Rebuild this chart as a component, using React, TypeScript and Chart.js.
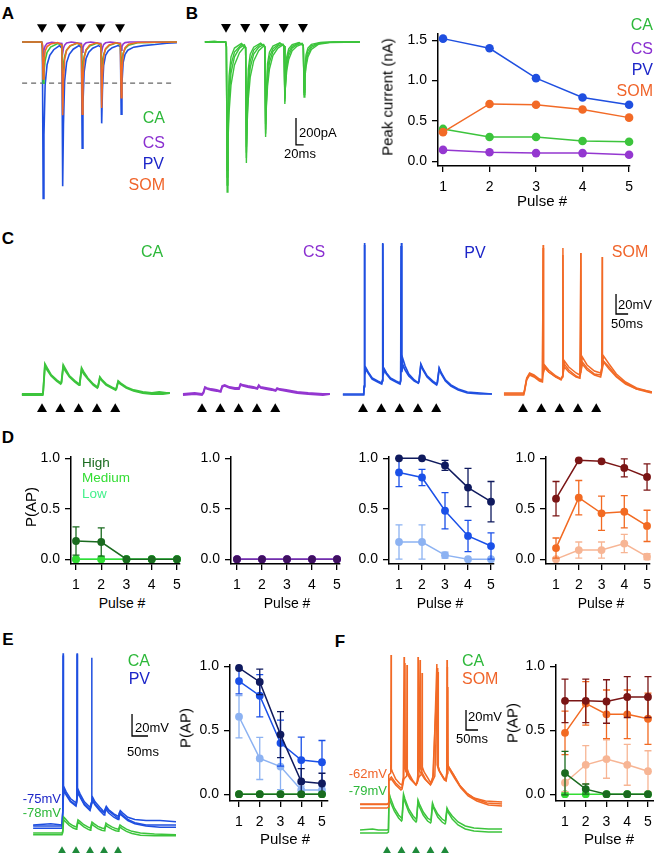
import React, { useEffect, useRef } from 'react';
import { Chart, registerables } from 'chart.js';
Chart.register(...registerables);

const FONT = '"Liberation Sans", Arial, Helvetica, sans-serif';

// ================= DATA =================
const pulseNumbers = [1, 2, 3, 4, 5];
const pulseTimesMs = [0, 50, 100, 150, 200];
const yTicksPeak = [0, 0.5, 1.0, 1.5];
const yTicksP = [0, 0.5, 1.0];

// Panel B (right): peak current (nA)
const peakCA = [0.40, 0.30, 0.30, 0.25, 0.24];
const peakCS = [0.14, 0.11, 0.10, 0.10, 0.08];
const peakPV = [1.52, 1.40, 1.03, 0.79, 0.70];
const peakSOM = [0.36, 0.71, 0.70, 0.64, 0.54];

// Panel D: P(AP)
const dCAHigh = [0.18, 0.17, 0, 0, 0];
const dCAHighErr = [0.14, 0.14, 0, 0, 0];
const dCAMed = [0, 0, 0, 0, 0];
const dCALow = [0, 0, 0, 0, 0];
const dCSHigh = [0, 0, 0, 0, 0];
const dCSMed = [0, 0, 0, 0, 0];
const dCSLow = [0, 0, 0, 0, 0];
const dPVHigh = [1.0, 1.0, 0.93, 0.71, 0.57];
const dPVHighErr = [0, 0, 0.05, 0.19, 0.2];
const dPVMed = [0.86, 0.81, 0.48, 0.23, 0.13];
const dPVMedErr = [0.14, 0.08, 0.18, 0.155, 0.13];
const dPVLow = [0.17, 0.17, 0.04, 0.0, 0.0];
const dPVLowErr = [0.17, 0.17, 0.03, 0, 0];
const dSOMHigh = [0.60, 0.98, 0.97, 0.905, 0.815];
const dSOMHighErr = [0.17, 0, 0, 0.09, 0.13];
const dSOMMed = [0.11, 0.61, 0.455, 0.47, 0.33];
const dSOMMedErr = [0.10, 0.17, 0.17, 0.16, 0.155];
const dSOMLow = [0.0, 0.09, 0.09, 0.155, 0.025];
const dSOMLowErr = [0, 0.08, 0.08, 0.09, 0.03];

// Panel E: P(AP)
const eCAHigh = [0, 0, 0, 0, 0];
const eCAMed = [0, 0, 0, 0, 0];
const ePVHigh = [0.987, 0.878, 0.466, 0.10, 0.084];
const ePVHighErr = [0, 0.1, 0.18, 0.1, 0.08];
const ePVMed = [0.885, 0.77, 0.40, 0.267, 0.25];
const ePVMedErr = [0.1, 0.165, 0.18, 0.18, 0.17];
const ePVLow = [0.606, 0.28, 0.216, 0.033, 0.033];
const ePVLowErr = [0.165, 0.165, 0.18, 0.03, 0.03];

// Panel F: P(AP)
const fCAHigh = [0.165, 0.04, 0, 0, 0];
const fCAHighErr = [0.17, 0.04, 0, 0, 0];
const fCAMed = [0, 0, 0, 0, 0];
const fSOMHigh = [0.73, 0.73, 0.725, 0.76, 0.76];
const fSOMHighErr = [0.17, 0.17, 0.17, 0.16, 0.16];
const fSOMMed = [0.48, 0.71, 0.625, 0.625, 0.59];
const fSOMMedErr = [0.17, 0.17, 0.19, 0.19, 0.2];
const fSOMLow = [0.09, 0.23, 0.275, 0.23, 0.18];
const fSOMLowErr = [0.07, 0.15, 0.15, 0.16, 0.16];

// Panel A traces: [ms, pA]
const traceA_PV = [[-51,0],[-1,0],[1,-60],[3,-1520],[5,-900],[8,-420],[13,-220],[20,-130],[30,-75],[45,-35],
  [51,-60],[53,-1400],[55,-800],[58,-380],[63,-200],[70,-120],[80,-70],[95,-35],
  [101,-55],[103,-1030],[105,-600],[108,-290],[113,-160],[120,-100],[130,-60],[145,-35],
  [151,-50],[153,-790],[155,-460],[158,-230],[163,-130],[170,-85],[180,-55],[195,-35],
  [201,-45],[203,-700],[205,-400],[208,-200],[213,-120],[220,-80],[235,-50],[260,-35],[290,-25],[320,-12],[346,-8]];
const traceA_SOM = [[-51,0],[-1,0],[1,-30],[3,-360],[5,-200],[8,-90],[13,-45],[22,-20],[40,-5],
  [51,-30],[53,-710],[55,-380],[58,-170],[63,-80],[72,-35],[90,-10],
  [101,-30],[103,-700],[105,-370],[108,-160],[113,-75],[122,-30],[140,-8],
  [151,-25],[153,-640],[155,-330],[158,-140],[163,-65],[172,-28],[190,-8],
  [201,-20],[203,-540],[205,-280],[208,-120],[213,-55],[222,-22],[245,-5],[346,0]];
const traceA_CA = [[-51,0],[-1,0],[1,-40],[3,-400],[5,-300],[8,-180],[13,-100],[22,-50],[40,-15],
  [51,-30],[53,-300],[55,-230],[58,-140],[63,-80],[72,-40],[90,-12],
  [101,-30],[103,-300],[105,-230],[108,-140],[113,-80],[122,-40],[140,-12],
  [151,-25],[153,-250],[155,-190],[158,-120],[163,-70],[172,-35],[190,-10],
  [201,-25],[203,-240],[205,-180],[208,-110],[213,-65],[222,-32],[245,-8],[346,0]];
const traceA_CS = [[-51,0],[-1,0],[1,-20],[3,-140],[5,-80],[8,-40],[13,-15],[25,-3],
  [51,-15],[53,-110],[55,-60],[58,-30],[63,-10],[75,0],
  [101,-15],[103,-100],[105,-55],[108,-25],[113,-8],[125,0],
  [151,-15],[153,-100],[155,-55],[158,-25],[163,-8],[175,0],
  [201,-12],[203,-80],[205,-45],[208,-20],[213,-6],[225,0],[346,0]];
const dashedLevelPA = -400;

// Panel B traces (CA cell, several sweeps): [ms, pA]
const traceB1 = [[-55,0],[-30,6],[-10,-3],[-1,0],[1,-40],[3,-1111],[5,-600],[8,-250],[13,-110],[22,-45],[40,-10],
  [51,-40],[53,-897],[55,-480],[58,-200],[63,-90],[72,-38],[90,-8],
  [101,-35],[103,-704],[105,-380],[108,-160],[113,-75],[122,-30],[140,-6],
  [151,-30],[153,-459],[155,-250],[158,-110],[163,-50],[172,-20],[190,-4],
  [201,-28],[203,-408],[205,-220],[208,-95],[213,-45],[222,-18],[245,-3],[280,0],[348,0]];
const traceB2 = [[-55,3],[-1,3],[1,-30],[3,-1000],[5,-700],[8,-420],[13,-230],[22,-110],[35,-45],[48,-20],
  [51,-40],[53,-820],[55,-560],[58,-340],[63,-190],[72,-90],[85,-40],[98,-18],
  [101,-35],[103,-650],[105,-450],[108,-270],[113,-150],[122,-70],[135,-30],[148,-15],
  [151,-30],[153,-420],[155,-290],[158,-180],[163,-100],[172,-45],[185,-20],[198,-10],
  [201,-25],[203,-370],[205,-260],[208,-160],[213,-90],[222,-40],[240,-12],[270,-3],[348,0]];
const traceB3 = [[-55,-2],[-1,-2],[1,-35],[3,-1060],[5,-650],[8,-330],[13,-170],[22,-75],[40,-20],
  [51,-40],[53,-860],[55,-520],[58,-270],[63,-140],[72,-60],[90,-15],
  [101,-35],[103,-680],[105,-420],[108,-210],[113,-110],[122,-50],[140,-10],
  [151,-30],[153,-440],[155,-270],[158,-140],[163,-75],[172,-32],[190,-6],
  [201,-26],[203,-390],[205,-240],[208,-125],[213,-65],[222,-28],[245,-5],[280,0],[348,0]];
const traceB4 = [[-55,1],[-1,1],[1,-30],[3,-950],[5,-750],[8,-520],[13,-320],[22,-170],[35,-80],[48,-35],
  [51,-50],[53,-780],[55,-600],[58,-420],[63,-260],[72,-140],[85,-65],[98,-30],
  [101,-40],[103,-610],[105,-480],[108,-330],[113,-200],[122,-100],[135,-45],[148,-22],
  [151,-35],[153,-400],[155,-310],[158,-210],[163,-130],[172,-65],[185,-30],[198,-15],
  [201,-28],[203,-350],[205,-270],[208,-185],[213,-110],[222,-55],[240,-18],[270,-5],[348,0]];

// Panel C traces: [ms, mV from rest]
const traceC_CA1 = [[-55,0],[2,0],[3,2],[8,30],[14,26],[25,19],[40,14],[51,11],[53,12],[58,29],[64,25],[75,18],[90,13],[101,10],[103,11],[108,26],[114,22],[125,16],[140,10],[151,7],[153,8],[158,17],[164,14],[175,10],[190,7],[201,5],[203,6],[208,13],[214,11],[230,7],[250,4],[275,2],[300,1],[320,2],[340,1],[349,1]];
const traceC_CA2 = [[-55,-1],[2,-1],[3,1],[8,28],[14,24],[25,18],[40,13],[51,10],[53,11],[58,27],[64,23],[75,17],[90,12],[101,9],[103,10],[108,24],[114,20],[125,15],[140,9],[151,6],[153,7],[158,16],[164,13],[175,9],[190,6],[201,4],[203,5],[208,12],[214,10],[230,6],[250,3],[275,1],[300,0],[330,0],[349,1]];
const traceC_CS1 = [[-52,0],[-20,1],[0,0],[4,2],[8,7],[14,6],[25,5],[40,4],[51,3],[55,8],[62,9],[75,7],[90,6],[101,6],[105,10],[112,9],[125,8],[140,7],[151,6],[155,9],[160,7],[175,6],[190,5],[201,4],[205,6],[212,5],[230,4],[260,2],[290,1],[330,0],[349,0]];
const traceC_CS2 = [[-52,-1],[-20,0],[0,-1],[4,1],[8,6],[14,5],[25,4],[40,3],[51,2],[55,7],[62,8],[75,6],[90,5],[101,5],[105,9],[112,8],[125,7],[140,6],[151,5],[155,8],[160,6],[175,5],[190,4],[201,3],[205,5],[212,4],[230,3],[260,1],[290,0],[330,-1],[349,0]];
const traceC_PV1 = [[-55,0],[2,0],[3,8],[4,151],[5,20],[8,26],[14,22],[25,16],[40,13],[51,11],[53,14],[54,151],[55,20],[58,25],[64,21],[75,16],[90,13],[101,11],[103,14],[105,151],[106,22],[109,29],[115,24],[125,18],[140,13],[151,11],[153,13],[158,30],[164,25],[175,18],[190,13],[201,10],[203,12],[208,26],[214,21],[225,14],[240,9],[260,5],[285,2],[320,1],[352,0]];
const traceC_PV2 = [[-55,-1],[2,-1],[3,7],[4,149],[5,19],[8,25],[14,21],[25,15],[40,12],[51,10],[53,13],[54,150],[55,19],[58,24],[64,20],[75,15],[90,12],[101,10],[103,13],[104,148],[105,24],[108,36],[115,28],[125,20],[140,14],[151,11],[153,13],[158,29],[164,24],[175,17],[190,12],[201,9],[203,11],[208,25],[214,20],[225,13],[240,8],[260,4],[285,1],[320,0],[352,0]];
const traceC_SOM1 = [[-52,0],[2,0],[4,3],[10,15],[18,20],[30,18],[45,14],[53,13],[55,149],[56,25],[59,29],[70,24],[90,18],[104,15],[108,18],[109,146],[110,26],[113,33],[125,27],[145,21],[155,19],[157,22],[158,141],[159,28],[162,37],[175,29],[195,23],[212,21],[215,26],[216,137],[217,30],[220,38],[235,30],[255,20],[280,12],[310,6],[340,3],[352,2]];
const traceC_SOM2 = [[-52,-1],[2,-1],[4,2],[10,14],[18,19],[30,17],[45,13],[53,12],[55,146],[56,23],[59,28],[70,22],[90,17],[104,14],[108,17],[109,139],[110,24],[113,30],[125,24],[145,18],[155,16],[158,22],[162,30],[175,24],[195,19],[212,17],[215,22],[220,32],[235,25],[255,17],[280,10],[310,5],[340,2],[352,1]];
const traceC_SOM3 = [[-52,1],[2,1],[4,4],[10,16],[18,21],[30,19],[45,15],[53,14],[55,20],[59,26],[70,22],[90,17],[104,15],[108,18],[113,27],[125,22],[145,17],[155,16],[158,141],[159,26],[162,32],[175,26],[195,20],[212,19],[215,25],[220,33],[235,27],[255,18],[280,11],[310,5],[340,3],[352,2]];

// Panel E traces: [ms, mV]
const traceE_PV1 = [[-103,-74],[-40,-73],[0,-74],[3,-60],[4,82],[5,-45],[8,-40],[15,-44],[30,-50],[50,-54],[53,-50],[54,82],[55,-45],[58,-42],[65,-46],[80,-53],[100,-58],[104,-54],[106,78],[107,-52],[110,-49],[118,-53],[135,-58],[150,-62],[153,-60],[158,-57],[166,-60],[185,-64],[200,-66],[203,-64],[208,-61],[216,-63],[235,-67],[260,-69],[300,-70],[350,-70],[407,-71]];
const traceE_PV2 = [[-103,-77],[0,-77],[3,-62],[4,80],[5,-48],[8,-43],[15,-47],[30,-53],[50,-57],[53,-53],[54,81],[55,-48],[58,-45],[65,-49],[80,-56],[100,-61],[104,-57],[109,-52],[118,-56],[135,-61],[150,-65],[153,-63],[158,-60],[166,-63],[185,-67],[200,-69],[203,-67],[208,-64],[216,-66],[235,-70],[260,-73],[300,-75],[350,-76],[407,-76]];
const traceE_PV3 = [[-103,-75],[0,-75],[3,-61],[6,-42],[15,-46],[30,-52],[50,-56],[53,-52],[57,-44],[65,-48],[80,-55],[100,-60],[104,-56],[109,-50],[118,-55],[135,-60],[150,-63],[153,-61],[158,-58],[166,-61],[185,-65],[200,-68],[203,-66],[208,-63],[216,-65],[235,-69],[260,-72],[300,-74],[350,-74],[407,-74]];
const traceE_CA1 = [[-103,-78],[0,-78],[3,-76],[6,-63.5],[12,-65],[25,-69],[40,-71.5],[51,-72.5],[53,-71],[57,-66],[64,-67.5],[78,-70.5],[92,-72.5],[101,-73.5],[103,-72],[107,-68],[114,-69.5],[128,-72],[142,-73.5],[151,-74],[153,-73],[157,-69],[164,-70.5],[178,-72.5],[192,-74],[201,-74.5],[203,-73.5],[207,-70.7],[214,-72],[230,-74.5],[250,-76.5],[280,-78],[330,-79],[407,-79.5]];
const traceE_CA2 = [[-103,-79.5],[0,-79.5],[3,-77.5],[6,-66],[12,-67.5],[25,-71],[40,-73.5],[51,-74.5],[53,-73],[57,-68],[64,-69.5],[78,-72.5],[92,-74.5],[101,-75.5],[103,-74],[107,-70],[114,-71.5],[128,-74],[142,-75.5],[151,-76],[153,-75],[157,-71],[164,-72.5],[178,-74.5],[192,-76],[201,-76.5],[203,-75.5],[207,-72.5],[214,-74],[230,-76.5],[250,-78.5],[280,-80],[330,-80.5],[407,-80.5]];

// Panel F traces: [ms, mV]
const traceF_SOM1 = [[-93,-61],[0,-61],[5,-60],[6,-32],[13,-30],[14,88],[15,-26],[19,-29],[30,-36],[45,-41],[52,-42],[56,-34],[59,86],[60,-24],[64,-28],[80,-36],[98,-41],[103,-40],[106,-33],[107,86],[108,-23],[112,-28],[130,-36],[148,-41],[153,-40],[160,-32],[172,79],[173,-22],[178,-27],[195,-35],[202,-37],[206,-30],[207,83],[208,-20],[213,-24],[230,-32],[250,-42],[275,-50],[300,-55],[340,-58],[397,-59]];
const traceF_SOM2 = [[-93,-65],[0,-65],[5,-64],[6,-38],[15,-36],[30,-42],[48,-47],[52,-46],[58,-36],[68,-33],[69,78],[70,-26],[75,-30],[90,-38],[100,-42],[104,-40],[110,-33],[114,83],[115,-25],[120,-29],[135,-37],[150,-42],[154,-40],[165,-33],[176,71],[177,-24],[182,-29],[198,-37],[204,-38],[208,-30],[210,56],[211,-24],[216,-27],[235,-36],[255,-45],[280,-53],[310,-58],[350,-62],[397,-63]];
const traceF_SOM3 = [[-93,-61.5],[0,-61.5],[5,-61],[6,-37],[15,-34],[30,-40],[48,-45],[52,-44],[58,-35],[62,80],[63,-25],[68,-29],[85,-37],[100,-42],[104,-40],[110,-34],[120,-31],[121,70],[122,-24],[128,-29],[145,-37],[152,-40],[158,-34],[175,75],[176,-23],[181,-28],[198,-36],[204,-37],[207,-31],[208,76],[209,-22],[215,-25],[232,-33],[252,-43],[278,-51],[305,-56],[345,-60],[397,-61]];
const traceF_CA1 = [[-93,-78],[-50,-77],[-30,-78],[0,-78],[5,-77],[7,-41],[12,-46],[25,-56],[40,-63],[50,-66],[52,-65],[57,-42],[62,-47],[75,-57],[90,-64],[100,-67],[102,-66],[107,-48],[112,-52],[125,-60],[140,-66],[150,-68],[152,-67],[157,-51],[162,-55],[175,-62],[190,-67],[200,-69],[202,-68],[207,-56],[212,-59],[225,-64],[245,-70],[270,-74],[300,-76],[350,-77],[397,-77]];
const traceF_CA2 = [[-93,-81],[0,-81],[5,-80],[7,-45],[12,-50],[25,-59],[40,-66],[50,-69],[52,-68],[57,-45],[62,-50],[75,-60],[90,-67],[100,-70],[102,-69],[107,-50],[112,-55],[125,-63],[140,-69],[150,-71],[152,-70],[157,-53],[162,-57],[175,-65],[190,-70],[200,-72],[202,-71],[207,-58],[212,-61],[225,-67],[245,-73],[270,-77],[300,-79],[350,-80],[397,-80]];

// ================= STYLE =================
const COL = {
  ca: '#3cc43c', cs: '#9437d0', pv: '#1f4fe0', som: '#f26a26',
  caText: '#2db83a', csText: '#8a2fd0', pvText: '#1c25c8', somText: '#f0642a',
  caHigh: '#1a6b1f', caMed: '#33dd33', caLow: '#44f08c',
  csHigh: '#3f1060', csLine: '#7030a8',
  pvHigh: '#0f1a5e', pvMed: '#1a50e8', pvLow: '#8cb2f2',
  somHigh: '#7a1515', somMed: '#f26a22', somLow: '#f7b594',
  stim: '#1e8a3a',
};

const toXY = (a: number[][]) => a.map(([x, y]) => ({ x, y }));

function traceDs(data: number[][], color: string, width = 1.3, yAxisID = 'y') {
  return { type: 'line', data: toXY(data), borderColor: color, borderWidth: width, pointRadius: 0, tension: 0, fill: false, yAxisID };
}
function arrowDs(level: number, color: string, down: boolean, yAxisID = 'y') {
  return { type: 'line', showLine: false, data: pulseTimesMs.map((t) => ({ x: t, y: level })), pointStyle: 'triangle', pointRotation: down ? 180 : 0, pointRadius: 5.8, pointBackgroundColor: color, pointBorderColor: color, pointBorderWidth: 0, clip: false, yAxisID };
}
function scaleBarDs(t0: number, v0: number, dt: number, dv: number, yAxisID = 'y') {
  return traceDs([[t0, v0 + dv], [t0, v0], [t0 + dt, v0]], '#000', 1.3, yAxisID);
}

function traceConfig(xr: number[], yr: number[], datasets: any[], y2r?: number[]) {
  const scales: any = {
    x: { type: 'linear', display: false, min: xr[0], max: xr[1] },
    y: { type: 'linear', display: false, min: yr[0], max: yr[1] },
  };
  if (y2r) scales.y2 = { type: 'linear', display: false, min: y2r[0], max: y2r[1] };
  return {
    type: 'line',
    data: { datasets },
    options: {
      responsive: false, animation: false, events: [],
      layout: { padding: 0, autoPadding: false },
      plugins: { legend: { display: false }, tooltip: { enabled: false } },
      scales,
    },
  };
}

const errorBarPlugin = {
  id: 'errorBars',
  beforeDatasetDraw(chart: any, args: any) {
    const ds = chart.data.datasets[args.index];
    if (!ds.errors) return;
    const xs = chart.scales.x, ys = chart.scales.y, ctx = chart.ctx;
    ctx.save();
    ctx.strokeStyle = ds.errorColor;
    ctx.lineWidth = 1.3;
    ds.data.forEach((p: any, i: number) => {
      const e = ds.errors[i];
      if (!e) return;
      const px = xs.getPixelForValue(p.x);
      const top = ys.getPixelForValue(p.y + e), bot = ys.getPixelForValue(p.y - e);
      ctx.beginPath();
      ctx.moveTo(px, top); ctx.lineTo(px, bot);
      ctx.moveTo(px - 3.5, top); ctx.lineTo(px + 3.5, top);
      ctx.moveTo(px - 3.5, bot); ctx.lineTo(px + 3.5, bot);
      ctx.stroke();
    });
    ctx.restore();
  },
};

function series(values: number[], color: string, opts: any = {}) {
  return {
    type: 'line',
    data: pulseNumbers.map((p, i) => ({ x: p, y: values[i] })),
    borderColor: opts.line || color,
    borderWidth: 1.5,
    pointRadius: opts.r ?? 3.9,
    pointBackgroundColor: color,
    pointBorderColor: color,
    pointBorderWidth: 0,
    tension: 0, fill: false, clip: false,
    errors: opts.err, errorColor: opts.errColor || color,
  };
}

const GL = 50, PT = 10, PR = 10, GB = 30;
const TICK_FONT = { family: FONT, size: 14 };

function xyConfig(xr: number[], yr: number[], yTicks: number[], datasets: any[]) {
  const grid = { drawOnChartArea: false, drawTicks: true, tickLength: 6, color: '#000', lineWidth: 1.3 };
  const border = { display: true, color: '#000', width: 1.5 };
  return {
    type: 'line',
    data: { datasets },
    plugins: [errorBarPlugin],
    options: {
      responsive: false, animation: false, events: [],
      layout: { padding: { left: 0, top: PT, right: PR, bottom: 0 }, autoPadding: false },
      plugins: { legend: { display: false }, tooltip: { enabled: false } },
      scales: {
        x: {
          type: 'linear', min: xr[0], max: xr[1],
          afterBuildTicks: (s: any) => { s.ticks = pulseNumbers.map((v) => ({ value: v })); },
          afterFit: (s: any) => { s.height = GB; },
          ticks: { font: TICK_FONT, color: '#000', padding: 7, maxRotation: 0, autoSkip: false, callback: (v: any) => String(v) },
          grid, border,
        },
        y: {
          type: 'linear', min: yr[0], max: yr[1],
          afterBuildTicks: (s: any) => { s.ticks = yTicks.map((v) => ({ value: v })); },
          afterFit: (s: any) => { s.width = GL; },
          ticks: { font: TICK_FONT, color: '#000', padding: 5, autoSkip: false, callback: (v: any) => Number(v).toFixed(1) },
          grid, border,
        },
      },
    },
  };
}

// ================= COMPONENTS =================
function ChartBox({ x, y, w, h, make }: any) {
  const ref = useRef<HTMLCanvasElement>(null);
  useEffect(() => {
    const chart = new Chart(ref.current as HTMLCanvasElement, make());
    return () => chart.destroy();
  }, []);
  return <canvas ref={ref} width={w} height={h} style={{ position: 'absolute', left: x, top: y, width: w, height: h }} />;
}

function XYPlot({ rect, xr, yr, yTicks, datasets }: any) {
  return (
    <ChartBox x={rect.l - GL} y={rect.t - PT} w={rect.r - rect.l + GL + PR} h={rect.b - rect.t + PT + GB}
      make={() => xyConfig(xr, yr, yTicks, datasets())} />
  );
}

function T({ x, y, text, color = '#000', size = 14, align = 'left', bold = false, rotate = false }: any) {
  const tx = align === 'left' ? '0' : align === 'right' ? '-100%' : '-50%';
  return (
    <div style={{
      position: 'absolute', left: x, top: y, whiteSpace: 'nowrap', fontFamily: FONT, fontSize: size,
      color, lineHeight: 1, fontWeight: bold ? 'bold' : 'normal',
      transform: `translate(${tx}, -50%)` + (rotate ? ' rotate(-90deg)' : ''),
    }}>{text}</div>
  );
}

export default function App() {
  return (
    <div style={{ position: 'absolute', left: 0, top: 0, width: 654, height: 853, overflow: 'hidden', background: '#fff' }}>
      {/* Panel letters */}
      <T x={8} y={13} text="A" bold size={17} align="center" />
      <T x={192} y={13} text="B" bold size={17} align="center" />
      <T x={8} y={238} text="C" bold size={17} align="center" />
      <T x={8} y={437} text="D" bold size={17} align="center" />
      <T x={8} y={639} text="E" bold size={17} align="center" />
      <T x={340} y={641} text="F" bold size={17} align="center" />

      {/* ===== A traces ===== */}
      <ChartBox x={20} y={18} w={160} h={184} make={() => traceConfig([-56.4, 353.8], [-1553.6, 233], [
        arrowDs(145, '#000', true),
        traceDs(traceA_SOM, COL.som, 1.6),
        traceDs(traceA_CA, COL.ca, 1.6),
        traceDs(traceA_CS, COL.cs, 1.6),
        traceDs(traceA_PV, COL.pv, 1.6),
        { ...traceDs([[-51, dashedLevelPA], [340, dashedLevelPA]], '#666', 1.2), borderDash: [5, 4] },
      ])} />
      <T x={165} y={118} text="CA" color={COL.caText} size={16} align="right" />
      <T x={165} y={143} text="CS" color={COL.csText} size={16} align="right" />
      <T x={164} y={164} text="PV" color={COL.pvText} size={16} align="right" />
      <T x={165} y={185} text="SOM" color={COL.somText} size={16} align="right" />

      {/* ===== B traces ===== */}
      <ChartBox x={200} y={18} w={165} h={182} make={() => traceConfig([-67.6, 361.4], [-1170.8, 177.8], [
        arrowDs(111, '#000', true),
        traceDs(traceB1, COL.ca, 1.4),
        traceDs(traceB3, COL.ca, 1.4),
        traceDs(traceB2, COL.ca, 1.4),
        traceDs(traceB4, COL.ca, 1.4),
        scaleBarDs(182, -763, 20, 200),
      ])} />
      <T x={299} y={132} text="200pA" size={13} />
      <T x={300} y={153} text="20ms" size={13} align="center" />

      {/* ===== B chart ===== */}
      <XYPlot rect={{ l: 438, t: 30, r: 630, b: 166 }} xr={[0.892, 5.02]} yr={[-0.06, 1.585]} yTicks={yTicksPeak}
        datasets={() => [
          series(peakSOM, COL.som, { r: 4.3 }),
          series(peakPV, COL.pv, { r: 4.3 }),
          series(peakCA, COL.ca, { r: 4.3 }),
          series(peakCS, COL.cs, { r: 4.3 }),
        ]} />
      <T x={387} y={97} text="Peak current (nA)" size={15} align="center" rotate />
      <T x={542} y={200} text="Pulse #" size={15} align="center" />
      <T x={653} y={25} text="CA" color={COL.caText} size={16} align="right" />
      <T x={653} y={49} text="CS" color={COL.csText} size={16} align="right" />
      <T x={653} y={70} text="PV" color={COL.pvText} size={16} align="right" />
      <T x={653} y={91} text="SOM" color={COL.somText} size={16} align="right" />

      {/* ===== C traces ===== */}
      <ChartBox x={20} y={235} w={152} h={183} make={() => traceConfig([-60.1, 354.9], [-24, 159], [
        arrowDs(-15, '#000', false),
        traceDs(traceC_CA1, COL.ca, 1.8),
        traceDs(traceC_CA2, COL.ca, 1.8),
      ])} />
      <ChartBox x={180} y={235} w={152} h={183} make={() => traceConfig([-60.1, 354.9], [-24, 159], [
        arrowDs(-15, '#000', false),
        traceDs(traceC_CS1, COL.cs, 1.8),
        traceDs(traceC_CS2, COL.cs, 1.8),
      ])} />
      <ChartBox x={340} y={235} w={155} h={183} make={() => traceConfig([-62.8, 360.4], [-24, 159], [
        arrowDs(-15, '#000', false),
        traceDs(traceC_PV1, COL.pv, 1.7),
        traceDs(traceC_PV2, COL.pv, 1.7),
      ])} />
      <ChartBox x={500} y={235} w={154} h={183} make={() => traceConfig([-62.8, 357.7], [-24, 159], [
        arrowDs(-15, '#000', false),
        traceDs(traceC_SOM1, COL.som, 1.5),
        traceDs(traceC_SOM2, COL.som, 1.5),
        traceDs(traceC_SOM3, COL.som, 1.5),
        scaleBarDs(254, 80, 33, 20),
      ])} />
      <T x={152} y={252} text="CA" color={COL.caText} size={16} align="center" />
      <T x={314} y={252} text="CS" color={COL.csText} size={16} align="center" />
      <T x={475} y={253} text="PV" color={COL.pvText} size={16} align="center" />
      <T x={630} y={252} text="SOM" color={COL.somText} size={16} align="center" />
      <T x={618} y={304} text="20mV" size={13} />
      <T x={627} y={323} text="50ms" size={13} align="center" />

      {/* ===== D charts ===== */}
      <XYPlot rect={{ l: 71, t: 453, r: 180, b: 564 }} xr={[0.802, 5.12]} yr={[-0.048, 1.019]} yTicks={yTicksP}
        datasets={() => [
          series(dCAHigh, COL.caHigh, { err: dCAHighErr }),
          series(dCAMed, COL.caMed),
          series(dCALow, COL.caLow),
        ]} />
      <XYPlot rect={{ l: 231, t: 453, r: 340, b: 564 }} xr={[0.76, 5.12]} yr={[-0.048, 1.019]} yTicks={yTicksP}
        datasets={() => [
          series(dCSHigh, COL.csHigh, { line: COL.csLine }),
          series(dCSMed, '#8a3fd0'),
          series(dCSLow, '#c39be8'),
        ]} />
      <XYPlot rect={{ l: 389, t: 453, r: 494, b: 564 }} xr={[0.565, 5.13]} yr={[-0.048, 1.019]} yTicks={yTicksP}
        datasets={() => [
          series(dPVHigh, COL.pvHigh, { err: dPVHighErr }),
          series(dPVMed, COL.pvMed, { err: dPVMedErr }),
          series(dPVLow, COL.pvLow, { err: dPVLowErr }),
        ]} />
      <XYPlot rect={{ l: 546, t: 453, r: 650, b: 564 }} xr={[0.56, 5.13]} yr={[-0.048, 1.019]} yTicks={yTicksP}
        datasets={() => [
          series(dSOMHigh, COL.somHigh, { err: dSOMHighErr }),
          series(dSOMMed, COL.somMed, { err: dSOMMedErr }),
          series(dSOMLow, COL.somLow, { err: dSOMLowErr }),
        ]} />
      <T x={30} y={507} text="P(AP)" size={15} align="center" rotate />
      <T x={82} y={463} text="High" color={COL.caHigh} size={13.5} />
      <T x={82} y={478} text="Medium" color={COL.caMed} size={13.5} />
      <T x={82} y={494} text="Low" color={COL.caLow} size={13.5} />
      <T x={122} y={603} text="Pulse #" size={14} align="center" />
      <T x={287} y={603} text="Pulse #" size={14} align="center" />
      <T x={440} y={603} text="Pulse #" size={14} align="center" />
      <T x={601} y={603} text="Pulse #" size={14} align="center" />

      {/* ===== E traces ===== */}
      <ChartBox x={30} y={645} w={148} h={208} make={() => traceConfig([-114.2, 414.1], [-99.5, 89.5], [
        arrowDs(-98.6, COL.stim, false),
        traceDs(traceE_CA1, COL.ca, 1.5, 'y2'),
        traceDs(traceE_CA2, COL.ca, 1.5, 'y2'),
        traceDs(traceE_PV1, COL.pv, 1.5),
        traceDs(traceE_PV3, COL.pv, 1.5),
        traceDs(traceE_PV2, COL.pv, 1.5),
        scaleBarDs(250, 6.8, 57, 20),
      ], [-96.2, 92.9])} />
      <T x={150} y={661} text="CA" color={COL.caText} size={16} align="right" />
      <T x={150} y={679} text="PV" color={COL.pvText} size={16} align="right" />
      <T x={61} y={798} text="-75mV" color={COL.pvText} size={13} align="right" />
      <T x={61} y={812} text="-78mV" color={COL.caText} size={13} align="right" />
      <T x={135} y={727} text="20mV" size={13} />
      <T x={143} y={751} text="50ms" size={13} align="center" />

      {/* ===== E chart ===== */}
      <XYPlot rect={{ l: 230, t: 661, r: 328, b: 801 }} xr={[0.566, 5.29]} yr={[-0.053, 1.015]} yTicks={yTicksP}
        datasets={() => [
          series(eCAHigh, COL.caHigh),
          series(ePVHigh, COL.pvHigh, { err: ePVHighErr }),
          series(ePVMed, COL.pvMed, { err: ePVMedErr }),
          series(ePVLow, COL.pvLow, { err: ePVLowErr }),
          series(eCAMed, COL.caMed),
        ]} />
      <T x={185} y={728} text="P(AP)" size={15} align="center" rotate />
      <T x={285} y={838} text="Pulse #" size={15} align="center" />

      {/* ===== F traces ===== */}
      <ChartBox x={355} y={645} w={150} h={208} make={() => traceConfig([-110.4, 407.1], [-110, 98], [
        arrowDs(-109, COL.stim, false),
        traceDs(traceF_SOM1, COL.som, 1.5),
        traceDs(traceF_SOM2, COL.som, 1.5),
        traceDs(traceF_SOM3, COL.som, 1.5),
        traceDs(traceF_CA1, COL.ca, 1.5, 'y2'),
        traceDs(traceF_CA2, COL.ca, 1.5, 'y2'),
        scaleBarDs(272.6, 13, 41.4, 20),
      ], [-101, 107])} />
      <T x={462} y={661} text="CA" color={COL.caText} size={16} />
      <T x={462} y={679} text="SOM" color={COL.somText} size={16} />
      <T x={387} y={773} text="-62mV" color={COL.somText} size={13} align="right" />
      <T x={387} y={790} text="-79mV" color={COL.caText} size={13} align="right" />
      <T x={468} y={716} text="20mV" size={13} />
      <T x={472} y={738} text="50ms" size={13} align="center" />

      {/* ===== F chart ===== */}
      <XYPlot rect={{ l: 556, t: 661, r: 654, b: 801 }} xr={[0.566, 5.29]} yr={[-0.053, 1.015]} yTicks={yTicksP}
        datasets={() => [
          series(fCAHigh, COL.caHigh, { err: fCAHighErr }),
          series(fSOMHigh, COL.somHigh, { err: fSOMHighErr }),
          series(fSOMMed, COL.somMed, { err: fSOMMedErr }),
          series(fSOMLow, COL.somLow, { err: fSOMLowErr }),
          series(fCAMed, COL.caMed),
        ]} />
      <T x={512} y={723} text="P(AP)" size={15} align="center" rotate />
      <T x={609} y={838} text="Pulse #" size={15} align="center" />
    </div>
  );
}
